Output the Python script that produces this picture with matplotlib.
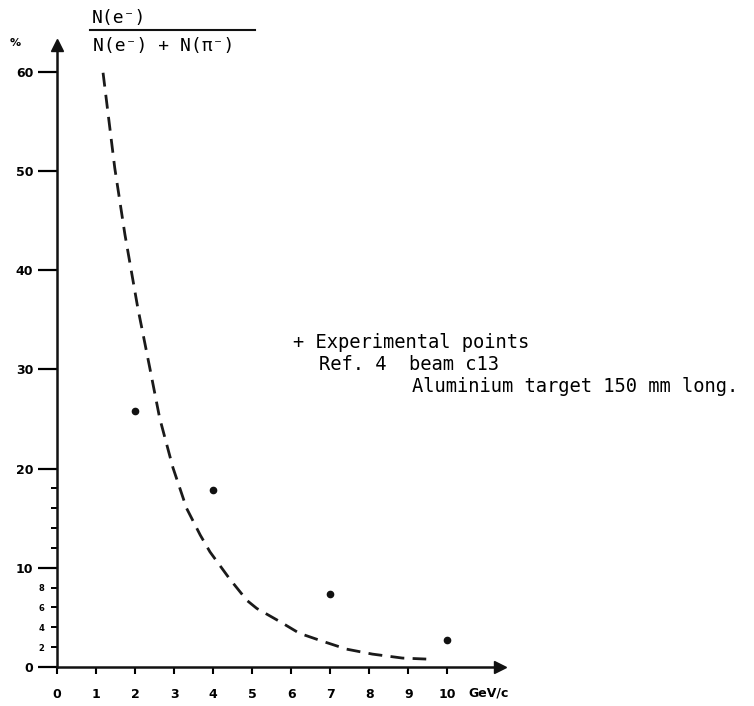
import matplotlib
matplotlib.use('Agg')
import matplotlib.pyplot as plt
from matplotlib.lines import Line2D

# Experimental points (beam c13, Al target)
momentum = [2, 4, 7, 10]
fraction = [25.8, 17.8, 7.4, 2.7]

# Dashed curve at intervals
curve_p = [1.18, 1.48, 1.74, 2.07, 2.38, 2.63, 2.97, 3.32, 3.67, 3.92, 4.42,
           4.87, 5.12, 5.70, 6.21, 6.80, 7.42, 8.08, 8.85, 9.46]
curve_frac = [59.9, 50.3, 43.6, 36.2, 30.1, 25.1, 20.1, 16.0, 13.3, 11.6, 8.9,
              6.7, 5.9, 4.6, 3.4, 2.6, 1.8, 1.3, 0.9, 0.8]

x_ticks = [0, 1, 2, 3, 4, 5, 6, 7, 8, 9, 10]
y_ticks = [0, 10, 20, 30, 40, 50, 60]
y_minor = [2, 4, 6, 8, 12, 14, 16, 18]
y_minor_labels = ['2', '4', '6', '8', '', '', '', '']

mono = ['DejaVu Sans Mono', 'DejaVu Sans']

fig = plt.figure(figsize=(7.54, 7.06), dpi=100)
ax = fig.add_axes([57 / 754, 1 - 667 / 706, 443 / 754, 622 / 706])

xmax, ymax = 11.35, 62.7
ax.set_xlim(0, xmax)
ax.set_ylim(0, ymax)

ax.plot(curve_p, curve_frac, color='#1a1a1a', lw=2.0, dashes=(5, 3))
ax.plot(momentum, fraction, 'o', color='#111111', ms=4.5)

for s in ['top', 'right']:
    ax.spines[s].set_visible(False)
for s in ['left', 'bottom']:
    ax.spines[s].set_linewidth(1.8)
    ax.spines[s].set_color('#111111')

# arrow heads on the axes
ax.plot([0], [ymax], marker='^', ms=8, color='#111111', clip_on=False)
ax.plot([xmax], [0], marker='>', ms=8, color='#111111', clip_on=False)

ax.set_xticks(x_ticks)
ax.set_xticklabels([str(v) for v in x_ticks], fontsize=9, fontweight='bold')
ax.tick_params(axis='x', direction='out', length=5, width=1.5, pad=10)

ax.set_yticks(y_ticks)
ax.set_yticklabels([str(v) for v in y_ticks], fontsize=9, fontweight='bold')
ax.tick_params(axis='y', which='major', direction='out', length=14, width=1.6, pad=3)
ax.set_yticks(y_minor, minor=True)
ax.set_yticklabels(y_minor_labels, minor=True, fontsize=6, fontweight='bold')
ax.tick_params(axis='y', which='minor', direction='out', length=4, width=1.4, pad=5)

ax.text(10.55, -0.042, 'GeV/c', transform=ax.get_xaxis_transform(),
        fontsize=9, fontweight='bold', va='center', ha='left')

fig.text(15 / 754, 1 - 43 / 706, '%', fontsize=8, fontweight='bold',
         ha='center', va='center')

# fraction label at top
fig.text(92 / 754, 1 - 18 / 706, 'N(e⁻)', family=mono, fontsize=13,
         ha='left', va='center')
fig.add_artist(Line2D([90 / 754, 255 / 754], [1 - 30 / 706, 1 - 30 / 706],
                      color='#111111', lw=1.5))
fig.text(93 / 754, 1 - 46 / 706, 'N(e⁻) + N(π⁻)', family=mono, fontsize=13,
         ha='left', va='center')

# annotation block
fig.text(293 / 754, 1 - 342 / 706, '+ Experimental points', family=mono,
         fontsize=13.5, ha='left', va='center')
fig.text(319 / 754, 1 - 364 / 706, 'Ref. 4  beam c13', family=mono,
         fontsize=13.5, ha='left', va='center')
fig.text(412 / 754, 1 - 386 / 706, 'Aluminium target 150 mm long.', family=mono,
         fontsize=13.5, ha='left', va='center')

fig.savefig('out.png', dpi=100)
